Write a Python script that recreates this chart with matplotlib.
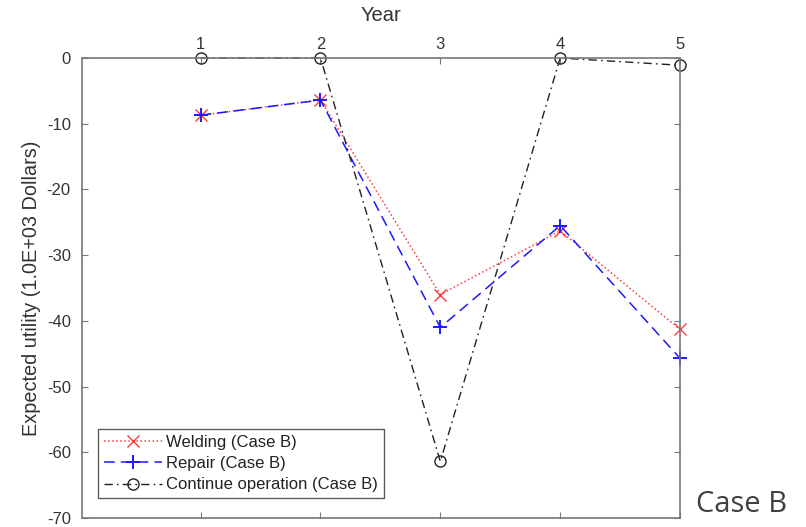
import matplotlib.pyplot as plt

# data
years = [1, 2, 3, 4, 5]
welding = [-8.7, -6.4, -36.0, -26.3, -41.3]
repair = [-8.7, -6.4, -41.0, -25.5, -45.7]
continue_op = [0.0, 0.0, -61.4, 0.0, -1.1]
yticks = [0, -10, -20, -30, -40, -50, -60, -70]

plt.rcParams['font.family'] = ['Liberation Sans', 'DejaVu Sans']
plt.rcParams['axes.unicode_minus'] = False

fig = plt.figure(figsize=(8.06, 5.27), dpi=100)
ax = fig.add_axes([0.1017, 0.0171, 0.7420, 0.8728])

ax.plot(years, welding, color='#ff3b3b', linestyle=':', marker='x',
        markersize=8, markeredgewidth=1.0, linewidth=1.1, clip_on=False,
        label='Welding (Case B)')
ax.plot(years, repair, color='#1a1aff', linestyle=(0, (7, 4)), marker='+',
        markersize=10, markeredgewidth=1.4, linewidth=1.1, clip_on=False,
        label='Repair (Case B)')
ax.plot(years, continue_op, color='#222222', linestyle=(0, (6, 3, 1.2, 3)),
        marker='o', markersize=8, markerfacecolor='none', markeredgewidth=1.0,
        linewidth=1.0, clip_on=False, label='Continue operation (Case B)')

ax.set_xlim(0.01, 5)
ax.set_ylim(-70, 0)
ax.set_xticks(years)
ax.set_yticks(yticks)
ax.xaxis.tick_top()
ax.xaxis.set_label_position('top')
ax.set_xlabel('Year', fontsize=14.5, color='#333333', labelpad=11)
ax.set_ylabel('Expected utility (1.0E+03 Dollars)', fontsize=14.3,
              color='#333333', labelpad=4)
ax.tick_params(direction='in', length=4, labelsize=12, colors='#777777',
               labelcolor='#333333', top=True, bottom=True, left=True, right=True)
ax.tick_params(axis='x', pad=4.5)
ax.tick_params(axis='y', pad=8)
for s in ax.spines.values():
    s.set_color('#777777')
    s.set_linewidth(1.2)

leg = ax.legend(loc='lower left', bbox_to_anchor=(0.027, 0.043), fontsize=12,
                frameon=True, fancybox=False, borderpad=0.35, labelspacing=0.38,
                handlelength=3.5, handletextpad=0.25, borderaxespad=0)
leg.get_frame().set_edgecolor('#333333')
leg.get_frame().set_linewidth(1.0)
for t in leg.get_texts():
    t.set_color('#222222')

fig.text(0.864, 0.028, 'Case B', fontsize=21, color='#404040', family='Open Sans')

fig.savefig('out.png', dpi=100)
